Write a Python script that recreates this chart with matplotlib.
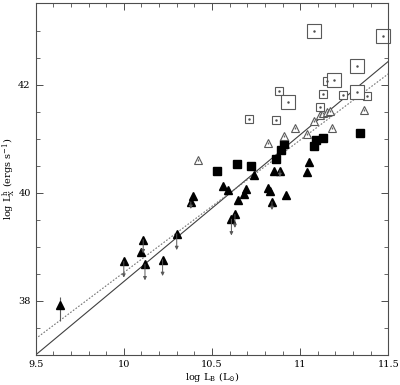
import numpy as np
import matplotlib
matplotlib.use("Agg")
import matplotlib.pyplot as plt
from matplotlib.ticker import MultipleLocator

# filled triangles (some with upper-limit arrows)
tri_x = [9.64, 10.00, 10.11, 10.10, 10.12, 10.22, 10.30, 10.38, 10.39, 10.56,
         10.59, 10.61, 10.63, 10.65, 10.68, 10.69, 10.74, 10.82, 10.83, 10.84,
         10.85, 10.885, 10.92, 11.04, 11.05]
tri_y = [37.92, 38.73, 39.13, 38.90, 38.68, 38.76, 39.24, 39.83, 39.94, 40.12,
         40.05, 39.51, 39.60, 39.86, 39.97, 40.07, 40.33, 40.09, 40.03, 39.83,
         40.41, 40.41, 39.95, 40.39, 40.57]
tri_arrow = [0, 0.3, 0.25, 0, 0.3, 0.3, 0.3, 0.13, 0, 0,
             0, 0.3, 0.25, 0, 0, 0, 0, 0, 0, 0.15,
             0, 0.12, 0, 0, 0]

# first point has a plain error bar
err_x = [9.64]
err_lo = [37.62]
err_hi = [38.08]

# filled squares
sq_x = [10.53, 10.64, 10.72, 10.86, 10.89, 10.91, 11.08, 11.09, 11.13, 11.34]
sq_y = [40.40, 40.53, 40.50, 40.63, 40.79, 40.90, 40.87, 40.98, 41.02, 41.10]

# open triangles
otri_x = [10.42, 10.82, 10.91, 10.97, 11.04, 11.08, 11.11, 11.13, 11.15, 11.17, 11.18, 11.36]
otri_y = [40.60, 40.92, 41.04, 41.19, 41.08, 41.33, 41.44, 41.48, 41.50, 41.51, 41.19, 41.53]

# open squares, small and large
osq_x = [10.71, 10.86, 10.88, 11.15, 11.13, 11.24, 11.38, 11.11]
osq_y = [41.36, 41.34, 41.88, 42.07, 41.83, 41.81, 41.78, 41.58]
obig_x = [10.93, 11.08, 11.47, 11.32, 11.19, 11.32]
obig_y = [41.67, 43.00, 42.89, 42.34, 42.09, 41.86]

# fit lines: value at x=9.5 and at x=11.5
fit_x = [9.5, 11.5]
fit_solid = [37.0, 42.43]
fit_dotted = [37.30, 42.20]

plt.rcParams["font.family"] = "DejaVu Serif"
plt.rcParams["mathtext.fontset"] = "dejavuserif"

fig = plt.figure(figsize=(4, 3.85), dpi=100)
ax = fig.add_axes([0.089, 0.078, 0.882, 0.913])

ax.plot(fit_x, fit_solid, color="0.25", lw=0.8)
ax.plot(fit_x, fit_dotted, color="0.45", lw=0.8, ls=(0, (1.5, 1.5)))

ax.vlines(err_x, err_lo, err_hi, color="0.35", lw=0.8)
for x, y, a in zip(tri_x, tri_y, tri_arrow):
    if a > 0:
        ax.annotate("", xy=(x, y - a), xytext=(x, y),
                    arrowprops=dict(arrowstyle="-|>", color="0.35", lw=0.7,
                                    mutation_scale=5, shrinkA=0, shrinkB=0))

ax.plot(tri_x, tri_y, "^", color="black", ms=5.5, ls="none")
ax.plot(sq_x, sq_y, "s", color="black", ms=5.5, ls="none")

ax.plot(otri_x, otri_y, "^", mfc="white", mec="0.35", mew=0.8, ms=6, ls="none")
ax.plot(otri_x, otri_y, "|", color="0.4", ms=2, ls="none")
ax.plot(osq_x, osq_y, "s", mfc="white", mec="0.35", mew=0.8, ms=5.5, ls="none")
ax.plot(obig_x, obig_y, "s", mfc="white", mec="0.35", mew=0.8, ms=9.5, ls="none",
        clip_on=False)
ax.plot(osq_x + obig_x, osq_y + obig_y, ".", color="0.3", ms=1.5, ls="none")

ax.set_xlim(9.5, 11.5)
ax.set_ylim(37.0, 43.5)
ax.xaxis.set_major_locator(MultipleLocator(0.5))
ax.xaxis.set_minor_locator(MultipleLocator(0.1))
ax.yaxis.set_major_locator(MultipleLocator(2))
ax.yaxis.set_minor_locator(MultipleLocator(0.5))
ax.set_xticks([9.5, 10, 10.5, 11, 11.5])
ax.set_xticklabels(["9.5", "10", "10.5", "11", "11.5"])
ax.tick_params(which="both", direction="in", top=True, right=True,
               labelsize=7, color="0.3")
ax.tick_params(which="major", length=5, width=0.7)
ax.tick_params(which="minor", length=3, width=0.6)
for s in ax.spines.values():
    s.set_color("0.3")
    s.set_linewidth(0.8)

ax.set_xlabel(r"log L$_{\rm B}$ (L$_{\odot}$)", fontsize=7)
ax.set_ylabel(r"log L$_{\rm X}^{\rm h}$ (ergs s$^{-1}$)", fontsize=7)
ax.xaxis.set_label_coords(0.5, -0.042)
ax.yaxis.set_label_coords(-0.05, 0.5)

fig.savefig("out.png", dpi=100)
